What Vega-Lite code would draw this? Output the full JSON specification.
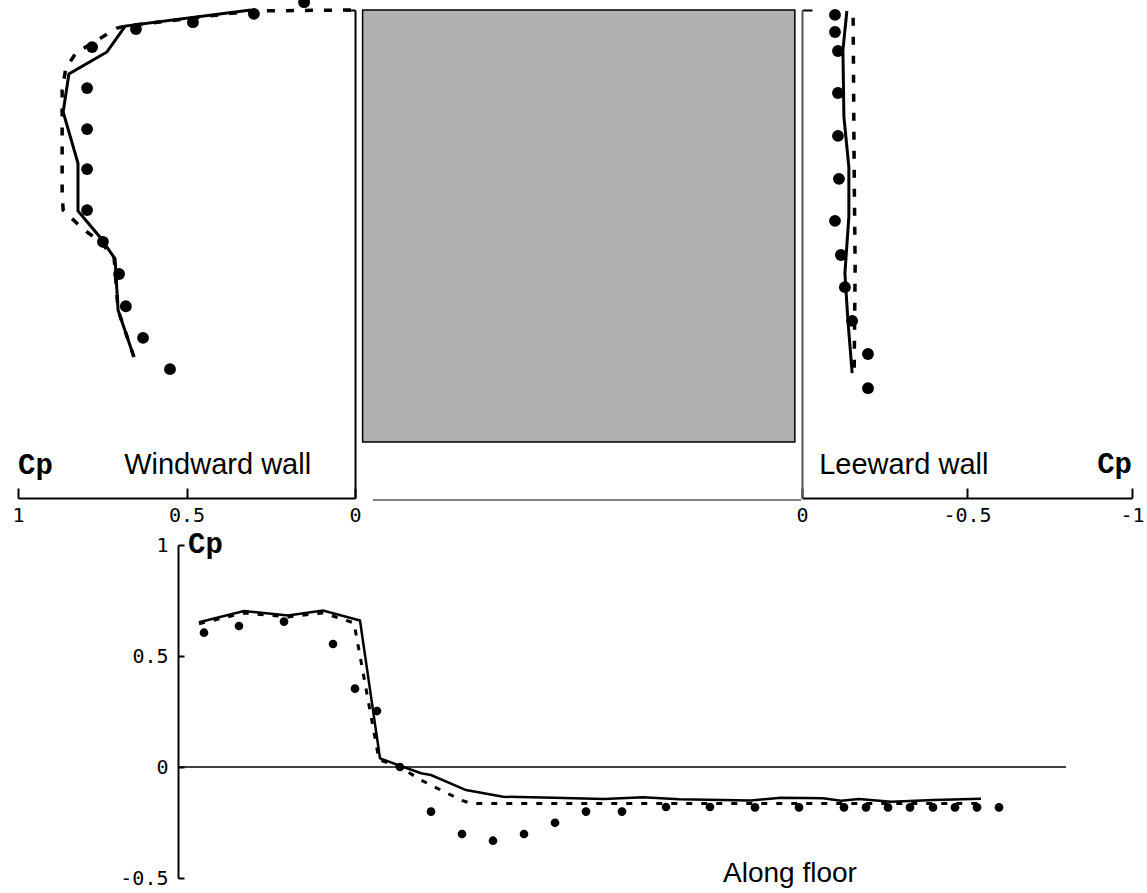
{
  "$schema": "https://vega.github.io/schema/vega-lite/v6.json",
  "background": "white",
  "padding": {"left": 11, "top": -4, "right": 5, "bottom": 5},
  "bounds": "full",
  "spacing": 4,
  "config": {
    "view": {"stroke": null},
    "axis": {"grid": false, "title": null, "labelFont": "DejaVu Sans Mono", "labelFontSize": 20, "labelColor": "black", "domainColor": "black", "tickColor": "black", "domainWidth": 2, "tickWidth": 2, "labelOverlap": false, "labelFlush": false, "format": "~g"}
  },
  "datasets": {
    "ww_exp": [
      {"cp": 0.151, "h": 1.016}, {"cp": 0.300, "h": 0.992}, {"cp": 0.481, "h": 0.975}, {"cp": 0.650, "h": 0.961},
      {"cp": 0.780, "h": 0.924}, {"cp": 0.795, "h": 0.840}, {"cp": 0.795, "h": 0.756}, {"cp": 0.795, "h": 0.674},
      {"cp": 0.795, "h": 0.590}, {"cp": 0.748, "h": 0.525}, {"cp": 0.700, "h": 0.459}, {"cp": 0.680, "h": 0.393},
      {"cp": 0.629, "h": 0.328}, {"cp": 0.549, "h": 0.264}
    ],
    "ww_solid": [
      {"i": 1, "cp": 0.309, "h": 1.0}, {"i": 2, "cp": 0.682, "h": 0.967}, {"i": 3, "cp": 0.736, "h": 0.914},
      {"i": 4, "cp": 0.849, "h": 0.869}, {"i": 5, "cp": 0.866, "h": 0.791}, {"i": 6, "cp": 0.822, "h": 0.686},
      {"i": 7, "cp": 0.822, "h": 0.588}, {"i": 8, "cp": 0.757, "h": 0.535}, {"i": 9, "cp": 0.712, "h": 0.490},
      {"i": 10, "cp": 0.703, "h": 0.385}, {"i": 11, "cp": 0.656, "h": 0.289}
    ],
    "ww_dash": [
      {"i": 1, "cp": 0.012, "h": 1.0}, {"i": 2, "cp": 0.309, "h": 0.998}, {"i": 3, "cp": 0.682, "h": 0.967},
      {"i": 4, "cp": 0.706, "h": 0.963}, {"i": 5, "cp": 0.828, "h": 0.912}, {"i": 6, "cp": 0.858, "h": 0.881},
      {"i": 7, "cp": 0.869, "h": 0.836}, {"i": 8, "cp": 0.869, "h": 0.625}, {"i": 9, "cp": 0.866, "h": 0.590},
      {"i": 10, "cp": 0.813, "h": 0.555}, {"i": 11, "cp": 0.754, "h": 0.523}, {"i": 12, "cp": 0.715, "h": 0.494},
      {"i": 13, "cp": 0.703, "h": 0.385}, {"i": 14, "cp": 0.656, "h": 0.289}
    ],
    "lw_exp": [
      {"cp": -0.100, "h": 0.990}, {"cp": -0.100, "h": 0.955}, {"cp": -0.109, "h": 0.916}, {"cp": -0.109, "h": 0.830},
      {"cp": -0.109, "h": 0.742}, {"cp": -0.112, "h": 0.654}, {"cp": -0.100, "h": 0.568}, {"cp": -0.118, "h": 0.498},
      {"cp": -0.130, "h": 0.432}, {"cp": -0.152, "h": 0.363}, {"cp": -0.200, "h": 0.295}, {"cp": -0.200, "h": 0.225}
    ],
    "lw_solid": [
      {"i": 1, "cp": -0.136, "h": 0.998}, {"i": 2, "cp": -0.124, "h": 0.918}, {"i": 3, "cp": -0.127, "h": 0.781},
      {"i": 4, "cp": -0.142, "h": 0.678}, {"i": 5, "cp": -0.142, "h": 0.576}, {"i": 6, "cp": -0.130, "h": 0.461},
      {"i": 7, "cp": -0.139, "h": 0.365}, {"i": 8, "cp": -0.152, "h": 0.256}
    ],
    "lw_dash": [
      {"i": 1, "cp": -0.155, "h": 0.984}, {"i": 2, "cp": -0.158, "h": 0.678}, {"i": 3, "cp": -0.161, "h": 0.473},
      {"i": 4, "cp": -0.158, "h": 0.256}
    ],
    "fl_exp": [
      {"s": 0.26, "cp": 0.605}, {"s": 0.61, "cp": 0.635}, {"s": 1.06, "cp": 0.655}, {"s": 1.55, "cp": 0.554},
      {"s": 1.77, "cp": 0.353}, {"s": 1.99, "cp": 0.252}, {"s": 2.22, "cp": 0.0}, {"s": 2.53, "cp": -0.201},
      {"s": 2.84, "cp": -0.302}, {"s": 3.15, "cp": -0.332}, {"s": 3.46, "cp": -0.302}, {"s": 3.77, "cp": -0.251},
      {"s": 4.08, "cp": -0.201}, {"s": 4.44, "cp": -0.201}, {"s": 4.88, "cp": -0.180}, {"s": 5.32, "cp": -0.180},
      {"s": 5.77, "cp": -0.182}, {"s": 6.21, "cp": -0.182}, {"s": 6.66, "cp": -0.182}, {"s": 6.88, "cp": -0.182},
      {"s": 7.10, "cp": -0.182}, {"s": 7.32, "cp": -0.182}, {"s": 7.55, "cp": -0.182}, {"s": 7.77, "cp": -0.182},
      {"s": 7.99, "cp": -0.182}, {"s": 8.21, "cp": -0.182}
    ],
    "fl_solid": [
      {"s": 0.21, "cp": 0.652}, {"s": 0.66, "cp": 0.703}, {"s": 1.10, "cp": 0.682}, {"s": 1.45, "cp": 0.705},
      {"s": 1.82, "cp": 0.660}, {"s": 2.02, "cp": 0.039}, {"s": 2.20, "cp": 0.009}, {"s": 2.43, "cp": -0.028},
      {"s": 2.53, "cp": -0.036}, {"s": 2.88, "cp": -0.104}, {"s": 3.25, "cp": -0.134}, {"s": 3.76, "cp": -0.139},
      {"s": 4.26, "cp": -0.144}, {"s": 4.65, "cp": -0.136}, {"s": 5.01, "cp": -0.145}, {"s": 5.73, "cp": -0.151},
      {"s": 6.03, "cp": -0.138}, {"s": 6.45, "cp": -0.141}, {"s": 6.63, "cp": -0.152}, {"s": 6.81, "cp": -0.144},
      {"s": 7.13, "cp": -0.156}, {"s": 7.56, "cp": -0.149}, {"s": 8.03, "cp": -0.143}
    ],
    "fl_dash": [
      {"s": 0.21, "cp": 0.645}, {"s": 0.66, "cp": 0.694}, {"s": 1.10, "cp": 0.676}, {"s": 1.45, "cp": 0.694},
      {"s": 1.76, "cp": 0.649}, {"s": 2.01, "cp": 0.032}, {"s": 2.20, "cp": 0.005}, {"s": 2.43, "cp": -0.059},
      {"s": 2.83, "cp": -0.149}, {"s": 2.93, "cp": -0.164}, {"s": 4.23, "cp": -0.164}, {"s": 5.73, "cp": -0.164},
      {"s": 8.03, "cp": -0.164}
    ]
  },
  "vconcat": [
    {
      "bounds": "flush",
      "spacing": 0,
      "hconcat": [
        {
          "width": 337,
          "height": 488,
          "encoding": {
            "x": {"field": "cp", "type": "quantitative", "scale": {"domain": [0, 1], "reverse": true, "nice": false, "zero": false},
                  "axis": {"values": [1, 0.5, 0], "tickSize": -10, "labelPadding": 17, "labelExpr": "replace(datum.label, '\u2212', '-')"}},
            "y": {"field": "h", "type": "quantitative", "scale": {"domain": [0, 1], "nice": false, "zero": false},
                  "axis": {"orient": "right", "values": [1], "tickSize": -10, "labels": false}}
          },
          "layer": [
            {"data": {"name": "ww_dash"}, "mark": {"type": "line", "color": "black", "strokeWidth": 3.5, "strokeDash": [8, 11]},
             "encoding": {"order": {"field": "i", "type": "quantitative"}}},
            {"data": {"name": "ww_solid"}, "mark": {"type": "line", "color": "black", "strokeWidth": 3},
             "encoding": {"order": {"field": "i", "type": "quantitative"}}},
            {"data": {"name": "ww_exp"}, "mark": {"type": "point", "filled": true, "color": "black", "size": 140, "opacity": 1}},
            {"data": {"values": [{"cp": 1.0, "h": 0.049, "t": "Cp"}]},
             "mark": {"type": "text", "align": "left", "baseline": "alphabetic", "font": "Liberation Mono", "fontWeight": "bold", "fontSize": 29, "color": "black"},
             "encoding": {"text": {"field": "t"}}},
            {"data": {"values": [{"cp": 0.685, "h": 0.049, "t": "Windward wall"}]},
             "mark": {"type": "text", "align": "left", "baseline": "alphabetic", "font": "Liberation Sans", "fontSize": 29, "color": "black"},
             "encoding": {"text": {"field": "t"}}}
          ]
        },
        {
          "width": 447,
          "height": 488,
          "layer": [
            {"data": {"values": [{"x1": 0.017, "x2": 0.984, "h1": 0.115, "h2": 1.0}]},
             "mark": {"type": "rect", "fill": "#b0b0b0", "stroke": "black", "strokeWidth": 1.5},
             "encoding": {
               "x": {"field": "x1", "type": "quantitative", "scale": {"domain": [0, 1], "nice": false, "zero": false}, "axis": null},
               "x2": {"field": "x2"},
               "y": {"field": "h1", "type": "quantitative", "scale": {"domain": [0, 1], "nice": false, "zero": false}, "axis": null},
               "y2": {"field": "h2"}
             }},
            {"data": {"values": [{"x1": 0.040, "x2": 0.998, "h1": -0.004}]},
             "mark": {"type": "rule", "color": "#808080", "strokeWidth": 2},
             "encoding": {
               "x": {"field": "x1", "type": "quantitative", "axis": null},
               "x2": {"field": "x2"},
               "y": {"field": "h1", "type": "quantitative", "axis": null}
             }}
          ]
        },
        {
          "width": 330,
          "height": 488,
          "encoding": {
            "x": {"field": "cp", "type": "quantitative", "scale": {"domain": [-1, 0], "reverse": true, "nice": false, "zero": false},
                  "axis": {"values": [0, -0.5, -1], "tickSize": -10, "labelPadding": 17, "labelExpr": "replace(datum.label, '\u2212', '-')"}},
            "y": {"field": "h", "type": "quantitative", "scale": {"domain": [0, 1], "nice": false, "zero": false},
                  "axis": {"orient": "left", "values": [1], "tickSize": -10, "labels": false, "domainColor": "#555555"}}
          },
          "layer": [
            {"data": {"name": "lw_dash"}, "mark": {"type": "line", "color": "black", "strokeWidth": 3.5, "strokeDash": [8, 11]},
             "encoding": {"order": {"field": "i", "type": "quantitative"}}},
            {"data": {"name": "lw_solid"}, "mark": {"type": "line", "color": "black", "strokeWidth": 3},
             "encoding": {"order": {"field": "i", "type": "quantitative"}}},
            {"data": {"name": "lw_exp"}, "mark": {"type": "point", "filled": true, "color": "black", "size": 140, "opacity": 1}},
            {"data": {"values": [{"cp": -0.052, "h": 0.049, "t": "Leeward wall"}]},
             "mark": {"type": "text", "align": "left", "baseline": "alphabetic", "font": "Liberation Sans", "fontSize": 29, "color": "black"},
             "encoding": {"text": {"field": "t"}}},
            {"data": {"values": [{"cp": -1.0, "h": 0.051, "t": "Cp"}]},
             "mark": {"type": "text", "align": "right", "baseline": "alphabetic", "font": "Liberation Mono", "fontWeight": "bold", "fontSize": 29, "color": "black"},
             "encoding": {"text": {"field": "t"}}}
          ]
        }
      ]
    },
    {
      "width": 1049,
      "height": 333,
      "encoding": {
        "x": {"field": "s", "type": "quantitative", "scale": {"domain": [-1.6, 8.89], "nice": false, "zero": false}, "axis": null},
        "y": {"field": "cp", "type": "quantitative", "scale": {"domain": [-0.5, 1], "nice": false, "zero": false},
              "axis": {"values": [1, 0.5, 0, -0.5], "tickSize": -6, "labelPadding": 16, "offset": -160, "labelExpr": "replace(datum.label, '\u2212', '-')"}}
      },
      "layer": [
        {"data": {"values": [{"s": 0, "s2": 8.88, "cp": 0}]},
         "mark": {"type": "rule", "color": "black", "strokeWidth": 1.5},
         "encoding": {"x2": {"field": "s2"}}},
        {"data": {"name": "fl_dash"}, "mark": {"type": "line", "color": "black", "strokeWidth": 3, "strokeDash": [6, 9]}},
        {"data": {"name": "fl_solid"}, "mark": {"type": "line", "color": "black", "strokeWidth": 2.5}},
        {"data": {"name": "fl_exp"}, "mark": {"type": "point", "filled": true, "color": "black", "size": 75, "opacity": 1}},
        {"data": {"values": [{"s": 0.10, "cp": 0.964, "t": "Cp"}]},
         "mark": {"type": "text", "align": "left", "baseline": "alphabetic", "font": "Liberation Mono", "fontWeight": "bold", "fontSize": 29, "color": "black"},
         "encoding": {"text": {"field": "t"}}},
        {"data": {"values": [{"s": 5.45, "cp": -0.518, "t": "Along floor"}]},
         "mark": {"type": "text", "align": "left", "baseline": "alphabetic", "font": "Liberation Sans", "fontSize": 28, "color": "black"},
         "encoding": {"text": {"field": "t"}}}
      ]
    }
  ]
}
